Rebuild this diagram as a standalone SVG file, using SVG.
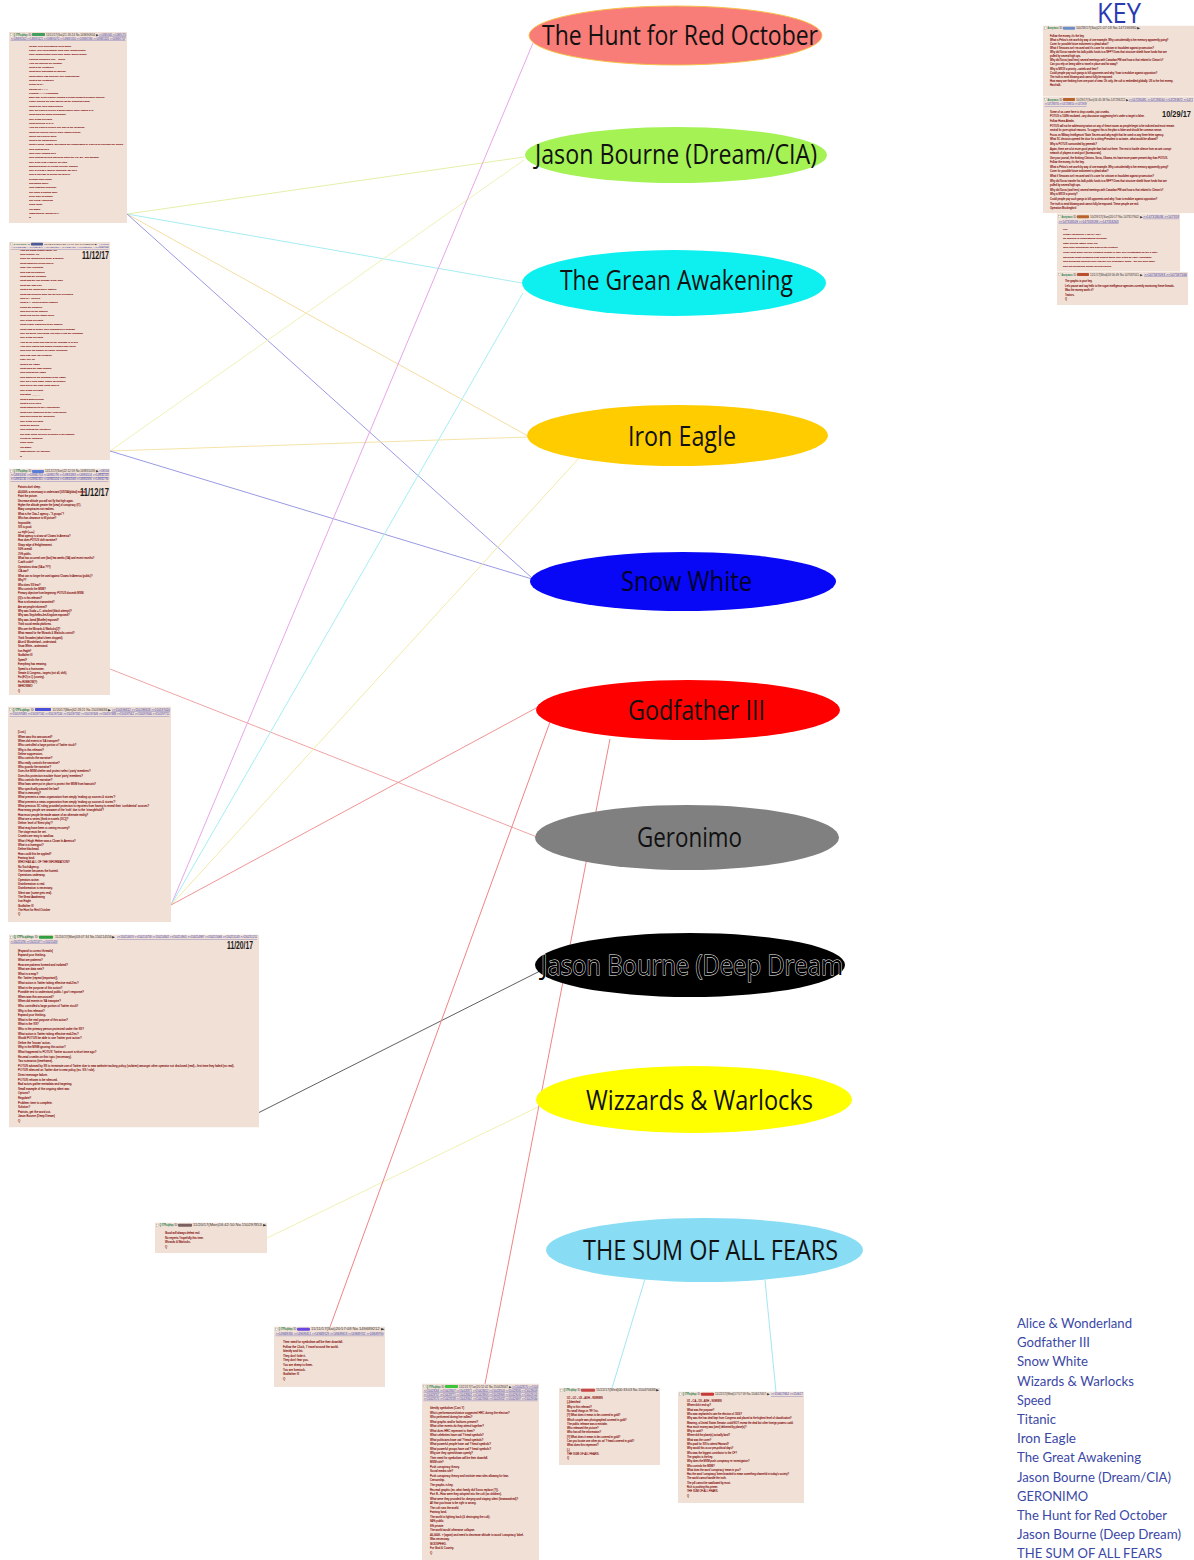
<svg xmlns="http://www.w3.org/2000/svg" width="1194" height="1560" viewBox="0 0 1194 1560">
<defs>
<style>
.post{fill:#f0e0d6}
.cb{fill:#ffffff;stroke:#8a8a8a;stroke-width:0.3}
.nm{font-family:"Liberation Sans",Arial,sans-serif;font-size:2.6px;fill:#117743;font-weight:bold}
.hd{font-family:"Liberation Sans",Arial,sans-serif;font-size:2.6px;fill:#333333}
.lk{font-family:"Liberation Sans",Arial,sans-serif;font-size:2.6px;fill:#3434a8;text-decoration:underline}
.q{font-family:"Liberation Sans",Arial,sans-serif;fill:#800000;stroke:#800000;stroke-width:0.08px}
.dt{font-family:"Liberation Sans",Arial,sans-serif;font-weight:bold;font-size:10px;fill:#1a1a1a}
.lbl{font-family:"Open Sans","Noto Sans",sans-serif;font-size:28px;fill:#111111}
.key{font-family:Lato,"Open Sans",sans-serif;font-size:14px;fill:#3b48a6}
#connectors line{stroke-width:1;fill:none}
</style>
<clipPath id="c1"><rect x="9" y="32" width="118" height="191"/></clipPath>
<clipPath id="c2"><rect x="9" y="242" width="101" height="218"/></clipPath>
<clipPath id="c3"><rect x="9" y="468.5" width="101" height="226.5"/></clipPath>
<clipPath id="c4"><rect x="8" y="706.5" width="163" height="215.5"/></clipPath>
<clipPath id="c5"><rect x="9" y="934.5" width="250" height="193"/></clipPath>
<clipPath id="c6"><rect x="155" y="1222.5" width="112" height="30.5"/></clipPath>
<clipPath id="c7"><rect x="274" y="1326.5" width="111" height="60.5"/></clipPath>
<clipPath id="c8"><rect x="422" y="1383.5" width="117" height="176.5"/></clipPath>
<clipPath id="c9"><rect x="559" y="1388" width="101" height="77"/></clipPath>
<clipPath id="c10"><rect x="678" y="1391.5" width="126" height="111.5"/></clipPath>
<clipPath id="c11"><rect x="1043" y="25.5" width="152" height="71.2"/></clipPath>
<clipPath id="c12"><rect x="1043" y="96.7" width="152" height="116.6"/></clipPath>
<clipPath id="c13"><rect x="1057" y="213.3" width="123" height="58.4"/></clipPath>
<clipPath id="c14"><rect x="1057" y="271.7" width="131" height="33.3"/></clipPath>
</defs>
<rect x="0" y="0" width="1194" height="1560" fill="#ffffff"/>

<g id="connectors">
<line x1="127" y1="214" x2="524" y2="157" stroke="#e6efa8"/>
<line x1="127" y1="214" x2="522" y2="283" stroke="#a6ecf2"/>
<line x1="127" y1="214" x2="528" y2="436" stroke="#f5dea4"/>
<line x1="127" y1="214" x2="532" y2="578" stroke="#9a9ae4"/>
<line x1="110" y1="451" x2="524" y2="160" stroke="#eef2b8"/>
<line x1="110" y1="451" x2="528" y2="437" stroke="#f5e4a8"/>
<line x1="110" y1="451" x2="532" y2="579" stroke="#9a9ae4"/>
<line x1="110" y1="669" x2="537" y2="837" stroke="#f0a4a4"/>
<line x1="171" y1="905" x2="533" y2="43" stroke="#e8a6e8"/>
<line x1="171" y1="905" x2="523" y2="293" stroke="#a6eef2"/>
<line x1="171" y1="905" x2="580" y2="457" stroke="#f2eaa8"/>
<line x1="171" y1="905" x2="538" y2="707" stroke="#f09494"/>
<line x1="258" y1="1113" x2="546" y2="968" stroke="#606060"/>
<line x1="267" y1="1238" x2="540" y2="1106" stroke="#f0f0b4"/>
<line x1="330" y1="1327" x2="550" y2="722" stroke="#f08484"/>
<line x1="485" y1="1384" x2="610" y2="739" stroke="#f08484"/>
<line x1="645" y1="1279" x2="612" y2="1388" stroke="#a4e6f4"/>
<line x1="765" y1="1280" x2="776" y2="1392" stroke="#a4e6f4"/>
</g>

<g id="node-hunt-red-october">
<ellipse cx="675.5" cy="35.5" rx="146.5" ry="29.5" fill="#f87c78" stroke="#f6c24a" stroke-width="1"/>
<text class="lbl" x="542" y="45" textLength="276" lengthAdjust="spacingAndGlyphs">The Hunt for Red October</text>
</g>
<g id="node-jason-bourne-cia">
<ellipse cx="676" cy="155" rx="151" ry="28" fill="#a4f254"/>
<text class="lbl" x="535" y="164" textLength="282" lengthAdjust="spacingAndGlyphs">Jason Bourne (Dream/CIA)</text>
</g>
<g id="node-grean-awakening">
<ellipse cx="674" cy="283" rx="152" ry="33" fill="#0ef0f0"/>
<text class="lbl" x="560" y="290" textLength="233" lengthAdjust="spacingAndGlyphs">The Grean Awakening</text>
</g>
<g id="node-iron-eagle">
<ellipse cx="677.5" cy="435.5" rx="150.5" ry="30.5" fill="#ffcc00"/>
<text class="lbl" x="628" y="446" textLength="108" lengthAdjust="spacingAndGlyphs">Iron Eagle</text>
</g>
<g id="node-snow-white">
<ellipse cx="683" cy="581.5" rx="153" ry="29.5" fill="#0808f6"/>
<text class="lbl" x="621" y="591" textLength="131" lengthAdjust="spacingAndGlyphs" style="fill:#000028">Snow White</text>
</g>
<g id="node-godfather-iii">
<ellipse cx="688" cy="710" rx="152" ry="30" fill="#ff0000"/>
<text class="lbl" x="628" y="720" textLength="137" lengthAdjust="spacingAndGlyphs">Godfather III</text>
</g>
<g id="node-geronimo">
<ellipse cx="687" cy="837.5" rx="152" ry="32.5" fill="#808080"/>
<text class="lbl" x="637" y="847" textLength="105" lengthAdjust="spacingAndGlyphs">Geronimo</text>
</g>
<g id="node-jason-bourne-deep">
<ellipse cx="690" cy="965" rx="155" ry="32" fill="#000000"/>
<text class="lbl" x="541" y="975" textLength="302" lengthAdjust="spacingAndGlyphs" style="fill:#000000;stroke:#ffffff;stroke-width:1px;paint-order:stroke">Jason Bourne (Deep Dream</text>
</g>
<g id="node-wizzards-warlocks">
<ellipse cx="694" cy="1099.5" rx="158" ry="33.5" fill="#ffff00"/>
<text class="lbl" x="586" y="1110" textLength="227" lengthAdjust="spacingAndGlyphs">Wizzards &amp; Warlocks</text>
</g>
<g id="node-sum-of-all-fears">
<ellipse cx="704.5" cy="1250" rx="158.5" ry="32" fill="#88dcf4"/>
<text class="lbl" x="583" y="1260" textLength="255" lengthAdjust="spacingAndGlyphs">THE SUM OF ALL FEARS</text>
</g>

<g id="post-1" clip-path="url(#c1)">
<rect class="post" x="9" y="32" width="118" height="191"/>
<rect class="cb" x="10.5" y="33.3" width="2.2" height="2.2"/>
<text class="nm" x="13.5" y="35.5" textLength="14" lengthAdjust="spacingAndGlyphs">Q !ITPb.qbhqo</text>
<text class="hd" x="28.5" y="35.5">ID:</text>
<rect x="32" y="33.1" width="13" height="3" rx="0.8" fill="#3f9e60"/>
<text class="hd" x="46" y="35.5" textLength="52" lengthAdjust="spacingAndGlyphs">11/11/17(Sat)21:18:24 No.149690954 ▶</text>
<text class="lk" x="99" y="35.5" textLength="27" lengthAdjust="spacingAndGlyphs">&gt;&gt;149691065 &gt;&gt;149691270</text>
<text class="lk" x="10.5" y="39.6" textLength="115" lengthAdjust="spacingAndGlyphs">&gt;&gt;149691302 &gt;&gt;149691421 &gt;&gt;149691474 &gt;&gt;149691550 &gt;&gt;149691596 &gt;&gt;149691620 &gt;&gt;149691707</text>
<text class="q" x="29" y="46.7" style="font-size:2.5px"><tspan x="29" dy="0">Wealth (over generations) buys power.</tspan><tspan x="29" dy="4.29">Power (over generations) buys more wealth/control.</tspan><tspan x="29" dy="4.29">More wealth/control buys more power and/or people.</tspan><tspan x="29" dy="4.29">Families combined (TRI = WW3).</tspan><tspan x="29" dy="4.29">How TRI families will collapse.</tspan><tspan x="29" dy="4.29">What is the keystone?</tspan><tspan x="29" dy="4.29">What force dominates all others?</tspan><tspan x="29" dy="4.29">What feature has influence over most others?</tspan><tspan x="29" dy="4.29">What is the keystone?</tspan><tspan x="29" dy="4.29">Return to SA.</tspan><tspan x="29" dy="4.29">Strings cut (+++).</tspan><tspan x="29" dy="4.29">Puppets (+++) in shadows.</tspan><tspan x="29" dy="4.29">Each side of the triangle controls a certain subsect of power brokers.</tspan><tspan x="29" dy="4.29">Power brokers are also labeled as the puppet/servants.</tspan><tspan x="29" dy="4.29">What is the New World Order?</tspan><tspan x="29" dy="4.29">Why did POTUS receive a sword dance when visiting SA?</tspan><tspan x="29" dy="4.29">What does the sword symbolize?</tspan><tspan x="29" dy="4.29">Why is this relevant?</tspan><tspan x="29" dy="4.29">What occurred in SA?</tspan><tspan x="29" dy="4.29">How did POTUS remove one side of the pyramid?</tspan><tspan x="29" dy="4.29">What did POTUS receive while visiting China?</tspan><tspan x="29" dy="4.29">Where did POTUS dine?</tspan><tspan x="29" dy="4.29">What is the significance?</tspan><tspan x="29" dy="4.29">What if China, Russia, and others are coordinating w/ POTUS to eliminate the NWO?</tspan><tspan x="29" dy="4.29">Who controls NK?</tspan><tspan x="29" dy="4.29">Who really controls NK?</tspan><tspan x="29" dy="4.29">Who controls several agencies within the US, EU, and abroad?</tspan><tspan x="29" dy="4.29">Why is the Clas-1 agency so vital?</tspan><tspan x="29" dy="4.29">Enormous scale of events currently ongoing.</tspan><tspan x="29" dy="4.29">Why is a Clas-1 agency holding(s) still NK?</tspan><tspan x="29" dy="4.29">This is not easy to accept nor believe.</tspan><tspan x="29" dy="4.29">Crumbs make bread.</tspan><tspan x="29" dy="4.29">Operations active.</tspan><tspan x="29" dy="4.29">Joint missions underway.</tspan><tspan x="29" dy="4.29">The world is fighting back.</tspan><tspan x="29" dy="4.29">Refer back to graphic.</tspan><tspan x="29" dy="4.29">The Great Awakening</tspan><tspan x="29" dy="4.29">Snow White</tspan><tspan x="29" dy="4.29">Iron Eagle</tspan><tspan x="29" dy="4.29">Jason Bourne (Dream/CIA)</tspan><tspan x="29" dy="4.29">Q</tspan></text>
</g>

<g id="post-2" clip-path="url(#c2)">
<rect class="post" x="9" y="242" width="101" height="218"/>
<rect class="cb" x="10.5" y="243" width="2" height="2"/>
<text class="nm" x="13.5" y="245" textLength="13" lengthAdjust="spacingAndGlyphs" style="font-size:2.3px">Q !ITPb.qbhqo</text>
<text class="hd" x="27.5" y="245" style="font-size:2.3px">ID:</text>
<rect x="31" y="242.8" width="12" height="2.7" rx="0.7" fill="#4a5a9a"/>
<text class="hd" x="44" y="245" textLength="54" lengthAdjust="spacingAndGlyphs" style="font-size:2.3px">11/12/17(Sun)21:49:09 No.149828989 ▶</text>
<text class="lk" x="99" y="245" textLength="10" lengthAdjust="spacingAndGlyphs" style="font-size:2.3px">&gt;&gt;149829150</text>
<text class="lk" x="10.5" y="248.4" textLength="98" lengthAdjust="spacingAndGlyphs" style="font-size:2.3px">&gt;&gt;149829228 &gt;&gt;149829291 &gt;&gt;149829360 &gt;&gt;149829437 &gt;&gt;149829566 &gt;&gt;149829712</text>
<text class="dt" x="82" y="258.5" textLength="27" lengthAdjust="spacingAndGlyphs">11/12/17</text>
<text class="q" x="20" y="250.7" style="font-size:2.5px"><tspan x="20" dy="0">How did Soros replace family 'J'?</tspan><tspan x="20" dy="4.38">Who is family 'J'?</tspan><tspan x="20" dy="4.38">Trace the bloodlines of these 2 families.</tspan><tspan x="20" dy="4.38">What happened during WWII?</tspan><tspan x="20" dy="4.38">Was Hitler a puppet?</tspan><tspan x="20" dy="4.38">Who was his handler?</tspan><tspan x="20" dy="4.38">What was the purpose?</tspan><tspan x="20" dy="4.38">What was the real purpose of the war?</tspan><tspan x="20" dy="4.38">What age was GS?</tspan><tspan x="20" dy="4.38">What is the Soros family history?</tspan><tspan x="20" dy="4.38">What has occurred since the fall of N Germany?</tspan><tspan x="20" dy="4.38">Who is A. Merkel?</tspan><tspan x="20" dy="4.38">What is A. Merkel's family history?</tspan><tspan x="20" dy="4.38">Follow the bloodline.</tspan><tspan x="20" dy="4.38">Who died on the Titanic?</tspan><tspan x="20" dy="4.38">What year did the Titanic sink?</tspan><tspan x="20" dy="4.38">Why is this relevant?</tspan><tspan x="20" dy="4.38">What exactly happened to the Titanic?</tspan><tspan x="20" dy="4.38">What class of people were guaranteed a lifeboat?</tspan><tspan x="20" dy="4.38">Why did select 'individuals' not make it into the lifeboats?</tspan><tspan x="20" dy="4.38">Why is this relevant?</tspan><tspan x="20" dy="4.38">How do we know who was on the lifeboats (R or D)?</tspan><tspan x="20" dy="4.38">How were names and bodies recorded back then?</tspan><tspan x="20" dy="4.38">Who were the bodies (by name) recorded?</tspan><tspan x="20" dy="4.38">Who was 'Cap' [ID] created?</tspan><tspan x="20" dy="4.38">Look: Rev 13</tspan><tspan x="20" dy="4.38">What is the FED?</tspan><tspan x="20" dy="4.38">What does the FED control?</tspan><tspan x="20" dy="4.38">Who controls the FED?</tspan><tspan x="20" dy="4.38">Who approved the formation of the FED?</tspan><tspan x="20" dy="4.38">Why did ill wind justify Titanic as omage?</tspan><tspan x="20" dy="4.38">Who built a 'the' boat (what name)?</tspan><tspan x="20" dy="4.38">Why is this relevant?</tspan><tspan x="20" dy="4.38">Operation ______</tspan><tspan x="20" dy="4.38">What is Engineering?</tspan><tspan x="20" dy="4.38">What is a PSYOP?</tspan><tspan x="20" dy="4.38">What happened to the Hindenburg?</tspan><tspan x="20" dy="4.38">What really happened to the Hindenburg?</tspan><tspan x="20" dy="4.38">Who died during the 'accident'?</tspan><tspan x="20" dy="4.38">Why is this relevant?</tspan><tspan x="20" dy="4.38">What are sheep?</tspan><tspan x="20" dy="4.38">Who controls the narrative?</tspan><tspan x="20" dy="4.38">The truth would put 99% of people in the hospital.</tspan><tspan x="20" dy="4.38">It must be controlled.</tspan><tspan x="20" dy="4.38">Snow White</tspan><tspan x="20" dy="4.38">Iron Eagle</tspan><tspan x="20" dy="4.38">Jason Bourne (CIA/Dream)</tspan><tspan x="20" dy="4.38">Q</tspan></text>
</g>

<g id="post-3" clip-path="url(#c3)">
<rect class="post" x="9" y="468.5" width="101" height="226.5"/>
<rect class="cb" x="10.5" y="470.1" width="2.2" height="2.2"/>
<text class="nm" x="13.5" y="472.3" textLength="14" lengthAdjust="spacingAndGlyphs">Q !ITPb.qbhqo</text>
<text class="hd" x="28.5" y="472.3">ID:</text>
<rect x="32" y="469.9" width="12" height="3" rx="0.8" fill="#5a7ed8"/>
<text class="hd" x="45" y="472.3" textLength="53" lengthAdjust="spacingAndGlyphs">11/12/17(Sun)22:12:59 No.149831459 ▶</text>
<text class="lk" x="99" y="472.3" textLength="10" lengthAdjust="spacingAndGlyphs">&gt;&gt;149831606</text>
<text class="lk" x="10.5" y="476.3" textLength="98" lengthAdjust="spacingAndGlyphs">&gt;&gt;149831692 &gt;&gt;149831753 &gt;&gt;149831795 &gt;&gt;149831883 &gt;&gt;149832014 &gt;&gt;149832153</text>
<text class="lk" x="10.5" y="480.3" textLength="98" lengthAdjust="spacingAndGlyphs">&gt;&gt;149832230 &gt;&gt;149832355 &gt;&gt;149832416 &gt;&gt;149832568 &gt;&gt;149832691 &gt;&gt;149832790</text>
<text class="dt" x="80" y="495.5" textLength="29" lengthAdjust="spacingAndGlyphs">11/12/17</text>
<text class="q" x="18" y="488.3" style="font-size:2.6px"><tspan x="18" dy="0">Patriots don't sleep.</tspan><tspan x="18" dy="4.42">40,000ft. = necessary to understand [US/SA/global] events.</tspan><tspan x="18" dy="4.42">Paint the picture.</tspan><tspan x="18" dy="4.42">Decrease altitude you will not fly that high again.</tspan><tspan x="18" dy="4.42">Higher the altitude greater the [view] of conspiracy (IT).</tspan><tspan x="18" dy="4.42">Many conspiracies not realities.</tspan><tspan x="18" dy="4.42">What is the Clas-1 agency - "3 groups"?</tspan><tspan x="18" dy="4.42">Who has clearance to fill picture?</tspan><tspan x="18" dy="4.42">Impossible.</tspan><tspan x="18" dy="4.42">SIS is good.</tspan><tspan x="18" dy="4.42">++ eight (+++)</tspan><tspan x="18" dy="4.42">What agency is at war w/ Clowns In America?</tspan><tspan x="18" dy="4.42">How does POTUS shift narrative?</tspan><tspan x="18" dy="4.42">Sharp edge of Enlightenment.</tspan><tspan x="18" dy="4.42">50% overall.</tspan><tspan x="18" dy="4.42">25% public.</tspan><tspan x="18" dy="4.42">What has occurred over [last] few weeks (SA) and recent months?</tspan><tspan x="18" dy="4.42">C-with code?</tspan><tspan x="18" dy="4.42">Operations show (SA = ???)</tspan><tspan x="18" dy="4.42">CIA war?</tspan><tspan x="18" dy="4.42">What can no longer be used against Clowns In America (public)?</tspan><tspan x="18" dy="4.42">Why??</tspan><tspan x="18" dy="4.42">Who does SS fear?</tspan><tspan x="18" dy="4.42">Who controls the MSM?</tspan><tspan x="18" dy="4.42">Primary objective from beginning: POTUS discredit MSM.</tspan><tspan x="18" dy="4.42">[D]'s is this relevant?</tspan><tspan x="18" dy="4.42">How is information transmitted?</tspan><tspan x="18" dy="4.42">Are we people informed?</tspan><tspan x="18" dy="4.42">Why was Scalia + C. attacked (black attempt)?</tspan><tspan x="18" dy="4.42">Why was Seychelles-fire-Kingdom exposed?</tspan><tspan x="18" dy="4.42">Why was Jamal [Mueller] exposed?</tspan><tspan x="18" dy="4.42">Think social media platforms.</tspan><tspan x="18" dy="4.42">Who are the Wizards &amp; Warlocks[2]?</tspan><tspan x="18" dy="4.42">What reward for the Wizards &amp; Warlocks control?</tspan><tspan x="18" dy="4.42">Think Snowden (what's been dropped).</tspan><tspan x="18" dy="4.42">Alice &amp; Wonderland - understand.</tspan><tspan x="18" dy="4.42">Snow White - understand.</tspan><tspan x="18" dy="4.42">Iron Eagle?</tspan><tspan x="18" dy="4.42">Godfather III</tspan><tspan x="18" dy="4.42">Speed?</tspan><tspan x="18" dy="4.42">Everything has meaning.</tspan><tspan x="18" dy="4.42">Speed is a frontrunner.</tspan><tspan x="18" dy="4.42">Senate &amp; Congress - targets (not all, shift).</tspan><tspan x="18" dy="4.42">Fix (EO) is Q (country).</tspan><tspan x="18" dy="4.42">Fix RUBBOW(?)</tspan><tspan x="18" dy="4.42">GERONIMO</tspan><tspan x="18" dy="4.42">Q</tspan></text>
</g>

<g id="post-4" clip-path="url(#c4)">
<rect class="post" x="8" y="706.5" width="163" height="215.5"/>
<rect class="cb" x="9.5" y="708.3" width="2.2" height="2.2"/>
<text class="nm" x="12.5" y="710.5" textLength="17" lengthAdjust="spacingAndGlyphs">Q !ITPb.qbhqo</text>
<text class="hd" x="31" y="710.5">ID:</text>
<rect x="35" y="708" width="16" height="3" rx="0.8" fill="#4b50d8"/>
<text class="hd" x="52.5" y="710.5" textLength="58" lengthAdjust="spacingAndGlyphs">11/20/17(Mon)02:28:21 No.150196636 ▶</text>
<text class="lk" x="112" y="710.5" textLength="58" lengthAdjust="spacingAndGlyphs">&gt;&gt;150196812 &gt;&gt;150196928 &gt;&gt;150197020</text>
<text class="lk" x="9.5" y="715" textLength="160" lengthAdjust="spacingAndGlyphs">&gt;&gt;150197083 &gt;&gt;150197161 &gt;&gt;150197244 &gt;&gt;150197332 &gt;&gt;150197409 &gt;&gt;150197488 &gt;&gt;150197562 &gt;&gt;150197640 &gt;&gt;150197711</text>
<text class="q" x="18" y="733.3" style="font-size:2.8px"><tspan x="18" dy="0">[Lost.]</tspan><tspan x="18" dy="4.33">When was this announced?</tspan><tspan x="18" dy="4.33">When did events in SA transpire?</tspan><tspan x="18" dy="4.33">Who controlled a large portion of Twitter stock?</tspan><tspan x="18" dy="4.33">Why is this relevant?</tspan><tspan x="18" dy="4.33">Define suppression.</tspan><tspan x="18" dy="4.33">Who controls the narrative?</tspan><tspan x="18" dy="4.33">Who really controls the narrative?</tspan><tspan x="18" dy="4.33">Who guards the narrative?</tspan><tspan x="18" dy="4.33">Does the MSM shelter and protect select 'party' members?</tspan><tspan x="18" dy="4.33">Does this protection insulate those 'party' members?</tspan><tspan x="18" dy="4.33">Who controls the narrative?</tspan><tspan x="18" dy="4.33">What laws were put in place to protect the MSM from lawsuits?</tspan><tspan x="18" dy="4.33">Who specifically passed the law?</tspan><tspan x="18" dy="4.33">What is immunity?</tspan><tspan x="18" dy="4.33">What prevents a news organization from simply 'making up sources &amp; stories'?</tspan><tspan x="18" dy="4.33">What prevents a news organization from simply 'making up sources &amp; stories'?</tspan><tspan x="18" dy="4.33">What previous SC ruling provided protection to reporters from having to reveal their 'confidential' sources?</tspan><tspan x="18" dy="4.33">How many people are unaware of the 'truth' due to the 'stranglehold'?</tspan><tspan x="18" dy="4.33">How must people be made aware of an alternate reality?</tspan><tspan x="18" dy="4.33">What are a series [think in novels (DC)]?</tspan><tspan x="18" dy="4.33">Define: level of 'Brent play'?</tspan><tspan x="18" dy="4.33">What may have been a coming recovery?</tspan><tspan x="18" dy="4.33">The stage must be set.</tspan><tspan x="18" dy="4.33">Crumbs are easy to swallow.</tspan><tspan x="18" dy="4.33">What if Hugh Hefner was a Clown In America?</tspan><tspan x="18" dy="4.33">What is a honeypot?</tspan><tspan x="18" dy="4.33">Define blackmail.</tspan><tspan x="18" dy="4.33">How could this be applied?</tspan><tspan x="18" dy="4.33">Fantasy land.</tspan><tspan x="18" dy="4.33">WHO HAS ALL OF THE INFORMATION?</tspan><tspan x="18" dy="4.33">No Such Agency.</tspan><tspan x="18" dy="4.33">The hunter becomes the hunted.</tspan><tspan x="18" dy="4.33">Operations underway.</tspan><tspan x="18" dy="4.33">Operators active.</tspan><tspan x="18" dy="4.33">Disinformation is real.</tspan><tspan x="18" dy="4.33">Disinformation is necessary.</tspan><tspan x="18" dy="4.33">Silent war (some gets real).</tspan><tspan x="18" dy="4.33">The Great Awakening</tspan><tspan x="18" dy="4.33">Iron Eagle</tspan><tspan x="18" dy="4.33">Godfather III</tspan><tspan x="18" dy="4.33">The Hunt for Red October</tspan><tspan x="18" dy="4.33">Q</tspan></text>
</g>

<g id="post-5" clip-path="url(#c5)">
<rect class="post" x="9" y="934.5" width="250" height="193"/>
<rect class="cb" x="10.5" y="936.1" width="2.2" height="2.2"/>
<text class="nm" x="13.5" y="938.3" textLength="20" lengthAdjust="spacingAndGlyphs">Q !ITPb.qbhqo</text>
<text class="hd" x="35" y="938.3">ID:</text>
<rect x="39" y="935.8" width="14" height="3" rx="0.8" fill="#2fa040"/>
<text class="hd" x="55" y="938.3" textLength="60" lengthAdjust="spacingAndGlyphs">11/20/17(Mon)03:07:34 No.150214556 ▶</text>
<text class="lk" x="117" y="938.3" textLength="140" lengthAdjust="spacingAndGlyphs">&gt;&gt;150214670 &gt;&gt;150214758 &gt;&gt;150214842 &gt;&gt;150214901 &gt;&gt;150214987 &gt;&gt;150215066 &gt;&gt;150215143 &gt;&gt;150215211</text>
<text class="lk" x="10.5" y="942.5" textLength="47" lengthAdjust="spacingAndGlyphs">&gt;&gt;150215290 &gt;&gt;150215377 &gt;&gt;150215459</text>
<text class="dt" x="227" y="949" textLength="26" lengthAdjust="spacingAndGlyphs">11/20/17</text>
<text class="q" x="18" y="951.7" style="font-size:2.9px"><tspan x="18" dy="0">[Expand to correct threads]</tspan><tspan x="18" dy="4.6">Expand your thinking.</tspan><tspan x="18" dy="4.6">What are patterns?</tspan><tspan x="18" dy="4.6">How are patterns formed and isolated?</tspan><tspan x="18" dy="4.6">What are data sets?</tspan><tspan x="18" dy="4.6">What is a map?</tspan><tspan x="18" dy="4.6">Re: Twitter (repeat [important]).</tspan><tspan x="18" dy="4.6">What action is Twitter taking effective mid-Dec?</tspan><tspan x="18" dy="4.6">What is the purpose of this action?</tspan><tspan x="18" dy="4.6">Possible test to understand public / gov't response?</tspan><tspan x="18" dy="4.6">When was this announced?</tspan><tspan x="18" dy="4.6">When did events in SA transpire?</tspan><tspan x="18" dy="4.6">Who controlled a large portion of Twitter stock?</tspan><tspan x="18" dy="4.6">Why is this relevant?</tspan><tspan x="18" dy="4.6">Expand your thinking.</tspan><tspan x="18" dy="4.6">What is the real purpose of this action?</tspan><tspan x="18" dy="4.6">What is the SS?</tspan><tspan x="18" dy="4.6">Who is the primary person protected under the SS?</tspan><tspan x="18" dy="4.6">What action is Twitter taking effective mid-Dec?</tspan><tspan x="18" dy="4.6">Would POTUS be able to use Twitter post action?</tspan><tspan x="18" dy="4.6">Define the 'known' action.</tspan><tspan x="18" dy="4.6">Why is the MSM ignoring this action?</tspan><tspan x="18" dy="4.6">What happened to POTUS' Twitter account a short time ago?</tspan><tspan x="18" dy="4.6">Re-read crumbs on this topic (necessary).</tspan><tspan x="18" dy="4.6">Two scenarios (timeframe).</tspan><tspan x="18" dy="4.6">POTUS advised by SS to terminate use of Twitter due to new website tracking policy (violates) amongst other operator not disclosed (real) - first time they failed (no real).</tspan><tspan x="18" dy="4.6">POTUS silenced on Twitter due to new policy (ex. SS / rule).</tspan><tspan x="18" dy="4.6">Direct message failure.</tspan><tspan x="18" dy="4.6">POTUS refuses to be silenced.</tspan><tspan x="18" dy="4.6">Bad actors gather metadata and targeting.</tspan><tspan x="18" dy="4.6">Small example of the ongoing silent war.</tspan><tspan x="18" dy="4.6">Options?</tspan><tspan x="18" dy="4.6">Regulate?</tspan><tspan x="18" dy="4.6">Problem: time to complete.</tspan><tspan x="18" dy="4.6">Solution?</tspan><tspan x="18" dy="4.6">Patriots, get the word out.</tspan><tspan x="18" dy="4.6">Jason Bourne (Deep Dream)</tspan><tspan x="18" dy="4.6">Q</tspan></text>
</g>

<g id="post-6" clip-path="url(#c6)">
<rect class="post" x="155" y="1222.5" width="112" height="30.5"/>
<rect class="cb" x="156.5" y="1224.1" width="2.2" height="2.2"/>
<text class="nm" x="159.5" y="1226.3" textLength="14" lengthAdjust="spacingAndGlyphs">Q !ITPb.qbhqo</text>
<text class="hd" x="174.5" y="1226.3">ID:</text>
<rect x="178" y="1223.8" width="14" height="3" rx="0.8" fill="#7a6060"/>
<text class="hd" x="193" y="1226.3" textLength="73" lengthAdjust="spacingAndGlyphs">11/20/17(Mon)16:42:50 No.150297853 ▶</text>
<text class="q" x="165" y="1234" style="font-size:2.8px"><tspan x="165" dy="0">Good will always defeat evil.</tspan><tspan x="165" dy="4.6">No regrets / hopefully this time.</tspan><tspan x="165" dy="4.6">Wizards &amp; Warlocks.</tspan><tspan x="165" dy="4.6">Q</tspan></text>
</g>

<g id="post-7" clip-path="url(#c7)">
<rect class="post" x="274" y="1326.5" width="111" height="60.5"/>
<rect class="cb" x="275.5" y="1328.1" width="2.2" height="2.2"/>
<text class="nm" x="278.5" y="1330.3" textLength="14" lengthAdjust="spacingAndGlyphs">Q !ITPb.qbhqo</text>
<text class="hd" x="293.5" y="1330.3">ID:</text>
<rect x="297" y="1327.8" width="13" height="3" rx="1.2" fill="#6a48e0"/>
<text class="hd" x="311" y="1330.3" textLength="73" lengthAdjust="spacingAndGlyphs">11/11/17(Sat)20:57:08 No.149689212 ▶</text>
<text class="lk" x="275.5" y="1334.8" textLength="108" lengthAdjust="spacingAndGlyphs">&gt;&gt;149689330 &gt;&gt;149689451 &gt;&gt;149689529 &gt;&gt;149689618 &gt;&gt;149689702 &gt;&gt;149689790</text>
<text class="q" x="283" y="1343" style="font-size:2.9px"><tspan x="283" dy="0">Their need for symbolism will be their downfall.</tspan><tspan x="283" dy="4.6">Follow the Clock, 7 travel around the world.</tspan><tspan x="283" dy="4.6">Identify and list.</tspan><tspan x="283" dy="4.6">They don't hide it.</tspan><tspan x="283" dy="4.6">They don't fear you.</tspan><tspan x="283" dy="4.6">You are sheep to them.</tspan><tspan x="283" dy="4.6">You are livestock.</tspan><tspan x="283" dy="4.6">Godfather III</tspan><tspan x="283" dy="4.6">Q</tspan></text>
</g>

<g id="post-8" clip-path="url(#c8)">
<rect class="post" x="422" y="1383.5" width="117" height="176.5"/>
<rect class="cb" x="423.5" y="1385.3" width="2.2" height="2.2"/>
<text class="nm" x="426.5" y="1387.5" textLength="14" lengthAdjust="spacingAndGlyphs">Q !ITPb.qbhqo</text>
<text class="hd" x="441.5" y="1387.5">ID:</text>
<rect x="445" y="1385" width="13" height="3" rx="0.8" fill="#3cc43c"/>
<text class="hd" x="459" y="1387.5" textLength="52" lengthAdjust="spacingAndGlyphs">11/21/17(Tue)20:52:42 No.150428047 ▶</text>
<text class="lk" x="512" y="1387.5" textLength="26" lengthAdjust="spacingAndGlyphs">&gt;&gt;150428170 &gt;&gt;1504</text>
<text class="lk" x="423.5" y="1391.7" textLength="114" lengthAdjust="spacingAndGlyphs">&gt;&gt;150428266 &gt;&gt;150428307 &gt;&gt;150428371 &gt;&gt;150428452 &gt;&gt;150428503 &gt;&gt;150428580 &gt;&gt;150428649</text>
<text class="lk" x="423.5" y="1395.7" textLength="114" lengthAdjust="spacingAndGlyphs">&gt;&gt;150428707 &gt;&gt;150428771 &gt;&gt;150428842 &gt;&gt;150428903 &gt;&gt;150428969 &gt;&gt;150429035 &gt;&gt;150429102</text>
<text class="lk" x="423.5" y="1399.8" textLength="114" lengthAdjust="spacingAndGlyphs">&gt;&gt;150429170 &gt;&gt;150429238 &gt;&gt;150429301 &gt;&gt;150429366 &gt;&gt;150429432 &gt;&gt;150429497 &gt;&gt;150429560</text>
<text class="q" x="430" y="1409" style="font-size:2.8px"><tspan x="430" dy="0">Identify symbolism (Cont.Y)</tspan><tspan x="430" dy="4.53">Who's performances/statue suggested HRC during the election?</tspan><tspan x="430" dy="4.53">Who performed during her rallies?</tspan><tspan x="430" dy="4.53">What graphic and/or fashions present?</tspan><tspan x="430" dy="4.53">What other events do they attend together?</tspan><tspan x="430" dy="4.53">What does HRC represent to them?</tspan><tspan x="430" dy="4.53">What celebrities have owl ? head symbols?</tspan><tspan x="430" dy="4.53">What politicians have owl ? head symbols?</tspan><tspan x="430" dy="4.53">What powerful people have owl ? head symbols?</tspan><tspan x="430" dy="4.53">What powerful groups have owl ? head symbols?</tspan><tspan x="430" dy="4.53">Why are they open/shown openly?</tspan><tspan x="430" dy="4.53">Their need for symbolism will be their downfall.</tspan><tspan x="430" dy="4.53">MSM role?</tspan><tspan x="430" dy="4.53">Push conspiracy theory.</tspan><tspan x="430" dy="4.53">Social media role?</tspan><tspan x="430" dy="4.53">Push conspiracy theory and institute new rules allowing for ban.</tspan><tspan x="430" dy="4.53">Censorship.</tspan><tspan x="430" dy="4.53">The graphic is key.</tspan><tspan x="430" dy="4.53">Re-read graphic (ex. what family did Soros replace (?)).</tspan><tspan x="430" dy="4.53">Part B - How were they adopted into the cult (as children).</tspan><tspan x="430" dy="4.53">What were they provided for obeying and staying silent (brainwashed)?</tspan><tspan x="430" dy="4.53">All that you know to be right is wrong.</tspan><tspan x="430" dy="4.53">The cult runs the world.</tspan><tspan x="430" dy="4.53">Fantasy land.</tspan><tspan x="430" dy="4.53">The world is fighting back (&amp; destroying the cult).</tspan><tspan x="430" dy="4.53">94% public</tspan><tspan x="430" dy="4.53">6% private</tspan><tspan x="430" dy="4.53">The world would otherwise collapse.</tspan><tspan x="430" dy="4.53">40,000ft. &gt; (again) and need to decrease altitude to avoid 'conspiracy' label.</tspan><tspan x="430" dy="4.53">Was necessary.</tspan><tspan x="430" dy="4.53">GODSPEED.</tspan><tspan x="430" dy="4.53">For God &amp; Country.</tspan><tspan x="430" dy="4.53">Q</tspan></text>
</g>

<g id="post-9" clip-path="url(#c9)">
<rect class="post" x="559" y="1388" width="101" height="77"/>
<rect class="cb" x="560.5" y="1389.1" width="2.2" height="2.2"/>
<text class="nm" x="563.5" y="1391.3" textLength="13" lengthAdjust="spacingAndGlyphs">Q !ITPb.qbhqo</text>
<text class="hd" x="577.5" y="1391.3">ID:</text>
<rect x="581" y="1388.8" width="14" height="3" rx="0.8" fill="#c84848"/>
<text class="hd" x="596" y="1391.3" textLength="63" lengthAdjust="spacingAndGlyphs">11/22/17(Wed)00:33:03 No.150470638 ▶</text>
<text class="q" x="567" y="1399" style="font-size:2.7px"><tspan x="567" dy="0">U1 - U2 - U3 - ASH - 9098WN</tspan><tspan x="567" dy="4.3">[-]Identified</tspan><tspan x="567" dy="4.3">Why is this relevant?</tspan><tspan x="567" dy="4.3">No small things in '99 Trio.</tspan><tspan x="567" dy="4.3">[?] What does it mean to be covered in gold?</tspan><tspan x="567" dy="4.3">Which couple was photographed covered in gold?</tspan><tspan x="567" dy="4.3">The public release was a mistake.</tspan><tspan x="567" dy="4.3">Who released the picture?</tspan><tspan x="567" dy="4.3">Who has all the information?</tspan><tspan x="567" dy="4.3">[?] What does it mean to be covered in gold?</tspan><tspan x="567" dy="4.3">Can you locate one other pic w/ ? head covered in gold?</tspan><tspan x="567" dy="4.3">What does this represent?</tspan><tspan x="567" dy="4.3">[-]</tspan><tspan x="567" dy="4.3">THE SUM OF ALL FEARS.</tspan><tspan x="567" dy="4.3">Q</tspan></text>
</g>

<g id="post-10" clip-path="url(#c10)">
<rect class="post" x="678" y="1391.5" width="126" height="111.5"/>
<rect class="cb" x="679.5" y="1393" width="2.2" height="2.2"/>
<text class="nm" x="682.5" y="1395.2" textLength="14" lengthAdjust="spacingAndGlyphs">Q !ITPb.qbhqo</text>
<text class="hd" x="697.5" y="1395.2">ID:</text>
<rect x="701" y="1392.7" width="13" height="3" rx="0.8" fill="#c83838"/>
<text class="hd" x="715" y="1395.2" textLength="54" lengthAdjust="spacingAndGlyphs">11/22/17(Wed)17:57:59 No.150617057 ▶</text>
<text class="lk" x="771" y="1395.2" textLength="32" lengthAdjust="spacingAndGlyphs">&gt;&gt;150617662 &gt;&gt;150617</text>
<text class="q" x="687" y="1402" style="font-size:2.6px"><tspan x="687" dy="0">U1 - CA - D3 - ASH - 9098WN</tspan><tspan x="687" dy="4.3">Where did it end up?</tspan><tspan x="687" dy="4.3">What was the purpose?</tspan><tspan x="687" dy="4.3">Who was implanted to win the election of 2016?</tspan><tspan x="687" dy="4.3">Why was the Iran deal kept from Congress and placed at the highest level of classification?</tspan><tspan x="687" dy="4.3">Meaning, a United States Senator could NOT review the deal but other foreign powers could.</tspan><tspan x="687" dy="4.3">How much money was [sent] delivered by plane(s)?</tspan><tspan x="687" dy="4.3">Why in cash?</tspan><tspan x="687" dy="4.3">Where did the plane(s) actually land?</tspan><tspan x="687" dy="4.3">What was the cover?</tspan><tspan x="687" dy="4.3">Who paid for SIS to attend Harvard?</tspan><tspan x="687" dy="4.3">Why would this occur pre-political days?</tspan><tspan x="687" dy="4.3">Who was the biggest contributor to the CF?</tspan><tspan x="687" dy="4.3">The graphic is the key.</tspan><tspan x="687" dy="4.3">Why does the MSM push conspiracy re: investigation?</tspan><tspan x="687" dy="4.3">Who controls the MSM?</tspan><tspan x="687" dy="4.3">What does the word 'conspiracy' mean to you?</tspan><tspan x="687" dy="4.3">Has the word 'conspiracy' been branded to mean something shameful in today's society?</tspan><tspan x="687" dy="4.3">The world cannot handle the truth.</tspan><tspan x="687" dy="4.3">The pill cannot be swallowed by most.</tspan><tspan x="687" dy="4.3">Rich is pushing this primer.</tspan><tspan x="687" dy="4.3">THE SUM OF ALL FEARS.</tspan><tspan x="687" dy="4.3">Q</tspan></text>
</g>

<g id="key-title">
<text x="1097" y="23" textLength="44" lengthAdjust="spacingAndGlyphs" style="font-family:'Open Sans','Noto Sans',sans-serif;font-size:27px;fill:#2a3ab0">KEY</text>
</g>

<g id="key-post-1" clip-path="url(#c11)">
<rect class="post" x="1043" y="25.5" width="152" height="71.2"/>
<rect class="cb" x="1044.5" y="27" width="2.2" height="2.2"/>
<text class="nm" x="1047.5" y="29.2" textLength="11" lengthAdjust="spacingAndGlyphs">Anonymous</text>
<text class="hd" x="1059.5" y="29.2">ID:</text>
<rect x="1063" y="26.7" width="12" height="3" rx="0.8" fill="#6b8ec8"/>
<text class="hd" x="1076" y="29.2" textLength="64" lengthAdjust="spacingAndGlyphs">10/28/17(Sat)21:07:18 No.147196980 ▶</text>
<text class="q" x="1050" y="36.7" style="font-size:2.6px"><tspan x="1050" dy="0">Follow the money, it's the key.</tspan><tspan x="1050" dy="4.1">What is Pelosi's net worth by way of one example. Why coincidentally is her memory apparently going?</tspan><tspan x="1050" dy="4.1">Cover for possible future indictment to plead what?</tspan><tspan x="1050" dy="4.1">What if Sessions isn't recused and it's cover for criticism in fraudulent against prosecution?</tspan><tspan x="1050" dy="4.1">Why did Soros transfer his bulk public funds to a NFP? Does that structure shield those funds that are</tspan><tspan x="1050" dy="4.1">pulled by several high ups.</tspan><tspan x="1050" dy="4.1">Why did Soros (and hers) several meetings with Canadian PM and how is that related to Clinton's?</tspan><tspan x="1050" dy="4.1">Can you rely on being able to travel in place and far away?</tspan><tspan x="1050" dy="4.1">Why is MS13 a priority - cartels and their?</tspan><tspan x="1050" dy="4.1">Could people pay such gangs to kill opponents and why / how to mobilize against opposition?</tspan><tspan x="1050" dy="4.1">The truth is mind blowing and cannot fully be exposed.</tspan><tspan x="1050" dy="4.1">How many are thinking from one point of view. Oh only, the cult is embedded globally. US is the first enemy.</tspan><tspan x="1050" dy="4.1">Hard talk.</tspan></text>
</g>

<g id="key-post-2" clip-path="url(#c12)">
<rect class="post" x="1043" y="96.7" width="152" height="116.6"/>
<rect class="cb" x="1044.5" y="98.3" width="2.2" height="2.2"/>
<text class="nm" x="1047.5" y="100.5" textLength="11" lengthAdjust="spacingAndGlyphs">Anonymous</text>
<text class="hd" x="1059.5" y="100.5">ID:</text>
<rect x="1063" y="98" width="12" height="3" rx="0.8" fill="#b8642c"/>
<text class="hd" x="1076" y="100.5" textLength="52" lengthAdjust="spacingAndGlyphs">10/29/17(Sun)16:45:38 No.147293222 ▶</text>
<text class="lk" x="1129" y="100.5" textLength="64" lengthAdjust="spacingAndGlyphs">&gt;&gt;147293481 &gt;&gt;147293564 &gt;&gt;147293672 &gt;&gt;1472</text>
<text class="lk" x="1044.5" y="105.3" textLength="42" lengthAdjust="spacingAndGlyphs">&gt;&gt;147293735 &gt;&gt;147293810 &gt;&gt;1472939</text>
<text class="dt" x="1162" y="117.3" textLength="29" lengthAdjust="spacingAndGlyphs" style="font-size:8.2px">10/29/17</text>
<text class="q" x="1050" y="112.7" style="font-size:2.6px"><tspan x="1050" dy="0">Some of us come here to drop crumbs, just crumbs.</tspan><tspan x="1050" dy="4.6">POTUS is 100% insulated - any discussion suggesting he's under a target is false.</tspan><tspan x="1050" dy="4.6">Follow Huma Abedin.</tspan><tspan x="1050" dy="4.6">POTUS will not be addressing nation on any of these issues as people begin to be indicted and most remain</tspan><tspan x="1050" dy="4.6">neutral for pure optical reasons. To suggest this is the plan is false and should be common sense.</tspan><tspan x="1050" dy="4.6">Focus on Military Intelligence/ State Secrets and why might that be used vs any three letter agency.</tspan><tspan x="1050" dy="4.6">What SC decision opened the door for a sitting President to activate - what would be allowed?</tspan><tspan x="1050" dy="4.6">Why is POTUS surrounded by generals?</tspan><tspan x="1050" dy="4.6">Again, there are a lot more good people than bad out there. The rest is hostile silence from an anti corrupt</tspan><tspan x="1050" dy="4.6">network of players in and gov't [bureaucrats].</tspan><tspan x="1050" dy="4.6">Use your journal, the thinking Clintons, Soros, Obama, etc have more power present day than POTUS.</tspan><tspan x="1050" dy="4.6">Follow the money, it's the key.</tspan><tspan x="1050" dy="4.6">What is Pelosi's net worth by way of one example. Why coincidentally is her memory apparently going?</tspan><tspan x="1050" dy="4.6">Cover for possible future indictment to plead what?</tspan><tspan x="1050" dy="4.6">What if Sessions isn't recused and it's cover for criticism in fraudulent against prosecution?</tspan><tspan x="1050" dy="4.6">Why did Soros transfer his bulk public funds to a NFP? Does that structure shield those funds that are</tspan><tspan x="1050" dy="4.6">pulled by several high ups.</tspan><tspan x="1050" dy="4.6">Why did Soros (and hers) several meetings with Canadian PM and how is that related to Clinton's?</tspan><tspan x="1050" dy="4.6">Why is MS13 a priority?</tspan><tspan x="1050" dy="4.6">Could people pay such gangs to kill opponents and why / how to mobilize against opposition?</tspan><tspan x="1050" dy="4.6">The truth is mind blowing and cannot fully be exposed. These people are evil.</tspan><tspan x="1050" dy="4.6">Operation Mockingbird</tspan></text>
</g>

<g id="key-post-3" clip-path="url(#c13)">
<rect class="post" x="1057" y="213.3" width="123" height="58.4"/>
<rect class="cb" x="1058.5" y="215.6" width="2.2" height="2.2"/>
<text class="nm" x="1061.5" y="217.8" textLength="11" lengthAdjust="spacingAndGlyphs">Anonymous</text>
<text class="hd" x="1073.5" y="217.8">ID:</text>
<rect x="1077" y="215.3" width="12" height="3" rx="0.8" fill="#b8642c"/>
<text class="hd" x="1090" y="217.8" textLength="52" lengthAdjust="spacingAndGlyphs">10/29/17(Sun)20:17 No.147317902 ▶</text>
<text class="lk" x="1143" y="217.8" textLength="36" lengthAdjust="spacingAndGlyphs">&gt;&gt;147318036 &gt;&gt;147318</text>
<text class="lk" x="1058.5" y="222.6" textLength="60" lengthAdjust="spacingAndGlyphs">&gt;&gt;147318109 &gt;&gt;147318198 &gt;&gt;147318263</text>
<text class="q" x="1063" y="230" style="font-size:2.5px"><tspan x="1063" dy="0">Key:</tspan><tspan x="1063" dy="4.6">Military intelligence v FBI CIA NSA</tspan><tspan x="1063" dy="4.6">No approval or congressional oversight.</tspan><tspan x="1063" dy="4.6">State Secrets (attack under SC.</tspan><tspan x="1063" dy="4.6">Who is the Commander and Chief of the military?</tspan><tspan x="1063" dy="4.6">Under what article can the President impose MI take over investigation for the 3 letter</tspan><tspan x="1063" dy="4.6">agencies? What conditions must present itself? Why is this so VERY important?</tspan><tspan x="1063" dy="4.6">Who surrounds POTUS? They had the very impressive power - the one area within</tspan><tspan x="1063" dy="4.6">govt not corrupt and directly serves POTUS.</tspan></text>
</g>

<g id="key-post-4" clip-path="url(#c14)">
<rect class="post" x="1057" y="271.7" width="131" height="33.3"/>
<rect class="cb" x="1058.5" y="273.4" width="2.2" height="2.2"/>
<text class="nm" x="1061.5" y="275.6" textLength="11" lengthAdjust="spacingAndGlyphs">Anonymous</text>
<text class="hd" x="1073.5" y="275.6">ID:</text>
<rect x="1077" y="273.1" width="12" height="3" rx="0.8" fill="#b85030"/>
<text class="hd" x="1090" y="275.6" textLength="52" lengthAdjust="spacingAndGlyphs">11/1/17(Wed)18:56:49 No.147587011 ▶</text>
<text class="lk" x="1144" y="275.6" textLength="43" lengthAdjust="spacingAndGlyphs">&gt;&gt;147587093 &gt;&gt;147587166</text>
<text class="q" x="1065" y="282.3" style="font-size:2.6px"><tspan x="1065" dy="0">The graphic is your key.</tspan><tspan x="1065" dy="4.4">Let's pause and say hello to the rogue intelligence agencies currently monitoring these threads.</tspan><tspan x="1065" dy="4.4">Was the money worth it?</tspan><tspan x="1065" dy="4.4">Traitors.</tspan><tspan x="1065" dy="4.4">Q</tspan></text>
</g>

<g id="legend">
<text class="key" x="1017" y="1328" textLength="115" lengthAdjust="spacingAndGlyphs">Alice &amp; Wonderland</text>
<text class="key" x="1017" y="1347.2" textLength="73" lengthAdjust="spacingAndGlyphs">Godfather III</text>
<text class="key" x="1017" y="1366.4" textLength="71" lengthAdjust="spacingAndGlyphs">Snow White</text>
<text class="key" x="1017" y="1385.6" textLength="117" lengthAdjust="spacingAndGlyphs">Wizards &amp; Warlocks</text>
<text class="key" x="1017" y="1404.8" textLength="34" lengthAdjust="spacingAndGlyphs">Speed</text>
<text class="key" x="1017" y="1424" textLength="39" lengthAdjust="spacingAndGlyphs">Titanic</text>
<text class="key" x="1017" y="1443.2" textLength="59" lengthAdjust="spacingAndGlyphs">Iron Eagle</text>
<text class="key" x="1017" y="1462.4" textLength="124" lengthAdjust="spacingAndGlyphs">The Great Awakening</text>
<text class="key" x="1017" y="1481.6" textLength="154" lengthAdjust="spacingAndGlyphs">Jason Bourne (Dream/CIA)</text>
<text class="key" x="1017" y="1500.8" textLength="71" lengthAdjust="spacingAndGlyphs">GERONIMO</text>
<text class="key" x="1017" y="1520" textLength="150" lengthAdjust="spacingAndGlyphs">The Hunt for Red October</text>
<text class="key" x="1017" y="1539.2" textLength="164" lengthAdjust="spacingAndGlyphs">Jason Bourne (Deep Dream)</text>
<text class="key" x="1017" y="1558.2" textLength="145" lengthAdjust="spacingAndGlyphs">THE SUM OF ALL FEARS</text>
</g>
</svg>
